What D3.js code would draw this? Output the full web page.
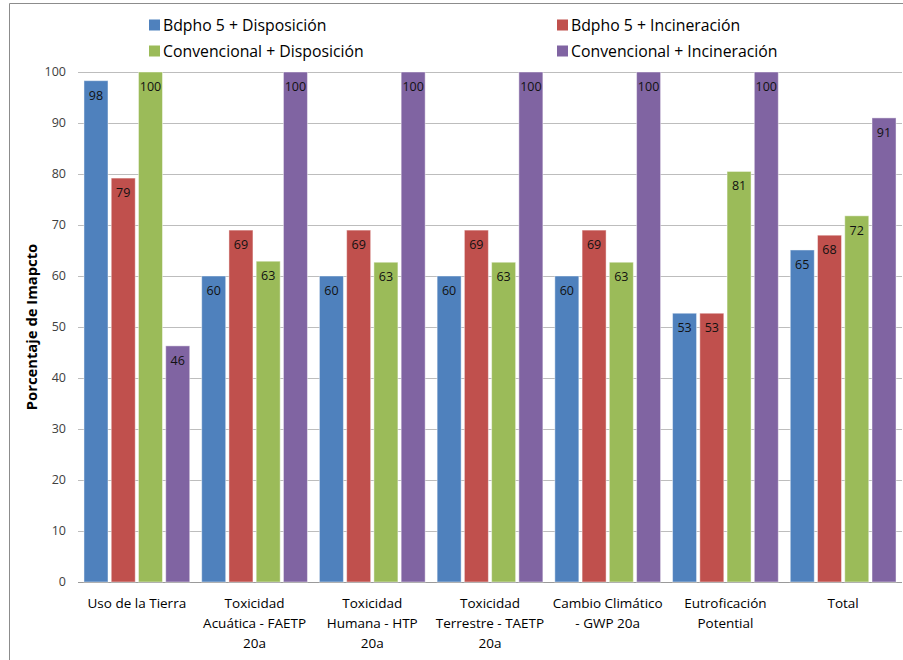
<!DOCTYPE html>
<html><head><meta charset="utf-8">
<script src="https://cdn.jsdelivr.net/npm/d3@7"></script>
<style>body{margin:0;background:#fff}svg{display:block}</style>
</head><body>
<svg id="c" width="903" height="660"></svg>
<script>
const categories = [
  ["Uso de la Tierra"],
  ["Toxicidad","Acuática - FAETP","20a"],
  ["Toxicidad","Humana - HTP","20a"],
  ["Toxicidad","Terrestre - TAETP","20a"],
  ["Cambio Climático","- GWP 20a"],
  ["Eutroficación","Potential"],
  ["Total"]
];
const seriesNames = ["Bdpho 5 + Disposición","Bdpho 5 + Incineración","Convencional + Disposición","Convencional + Incineración"];
const seriesColors = ["#4F81BD","#C0504D","#9BBB59","#8064A2"];
const bdphoDisp   = [98.3, 60.0, 60.0, 60.0, 60.0, 52.7, 65.1];
const bdphoInc    = [79.2, 69.0, 69.0, 69.0, 69.0, 52.7, 68.0];
const convDisp    = [100, 62.9, 62.7, 62.7, 62.7, 80.5, 71.8];
const convInc     = [46.3, 100, 100, 100, 100, 100, 91.0];
const yTicks = [0,10,20,30,40,50,60,70,80,90,100];
const seriesValues = [bdphoDisp, bdphoInc, convDisp, convInc];

const svg = d3.select("#c");
const font = "'Open Sans', sans-serif";
const L = 78, R = 902, T = 72, B = 582;

// frame
svg.append("path").attr("d","M9.5,660 L9.5,3.5 L903,3.5").attr("fill","none").attr("stroke","#8c8c8c").attr("stroke-width",1);

const x = d3.scaleBand().domain(d3.range(categories.length)).range([L,R]).paddingInner(0).paddingOuter(0);
const xs = d3.scaleBand().domain(d3.range(4)).range([0,x.bandwidth()]).paddingOuter(0.16).paddingInner(0);
const y = d3.scaleLinear().domain([0,100]).range([B,T]);

// gridlines
svg.append("g").selectAll("line").data(yTicks).join("line")
  .attr("x1",L).attr("x2",R).attr("y1",d=>Math.round(y(d))+0.5).attr("y2",d=>Math.round(y(d))+0.5)
  .attr("stroke",d=>d===0?"#9a9a9a":"#bdbdbd").attr("stroke-width",1);

// y tick labels
svg.append("g").selectAll("text").data(yTicks).join("text")
  .attr("x",66).attr("y",d=>y(d)).attr("dy","0.35em").attr("text-anchor","end")
  .attr("font-family",font).attr("font-size",12.5).attr("fill","#404040").text(d=>d);

// y title
svg.append("text").attr("transform",`translate(37,${(T+B)/2}) rotate(-90)`)
  .attr("text-anchor","middle").attr("font-family",font).attr("font-weight","bold")
  .attr("font-size",14.8).attr("fill","#000").text("Porcentaje de Imapcto");

// bars
const barW = 24;
seriesValues.forEach((vals,si)=>{
  const g = svg.append("g");
  g.selectAll("rect").data(vals).join("rect")
    .attr("x",(d,i)=>x(i)+xs(si)+(xs.bandwidth()-barW)/2)
    .attr("width",barW)
    .attr("y",d=>y(d)).attr("height",d=>y(0)-y(d))
    .attr("fill",seriesColors[si])
    .attr("stroke","rgba(255,255,255,0.45)").attr("stroke-width",1);
  g.selectAll("text").data(vals).join("text")
    .attr("x",(d,i)=>x(i)+xs(si)+xs.bandwidth()/2)
    .attr("y",d=>y(d)+14.5).attr("dy","0.35em").attr("text-anchor","middle")
    .attr("font-family",font).attr("font-size",12.5).attr("fill","#111")
    .text(d=>Math.round(d));
});

// x labels
const xl = svg.append("g");
categories.forEach((lines,i)=>{
  lines.forEach((t,j)=>{
    xl.append("text").attr("x",x(i)+x.bandwidth()/2).attr("y",603+j*20).attr("dy","0.35em")
      .attr("text-anchor","middle").attr("font-family",font).attr("font-size",13.5).attr("fill","#000").text(t);
  });
});

// legend
const legX = [149,557], legY = [25,51];
seriesNames.forEach((n,i)=>{
  const cx = legX[i%2], cy = legY[Math.floor(i/2)];
  svg.append("rect").attr("x",cx).attr("y",cy-5.5).attr("width",11).attr("height",11).attr("fill",seriesColors[i]);
  svg.append("text").attr("x",cx+14).attr("y",cy).attr("dy","0.35em").attr("font-family",font)
    .attr("font-size",15.8).attr("fill","#000").text(n);
});
</script>
</body></html>
